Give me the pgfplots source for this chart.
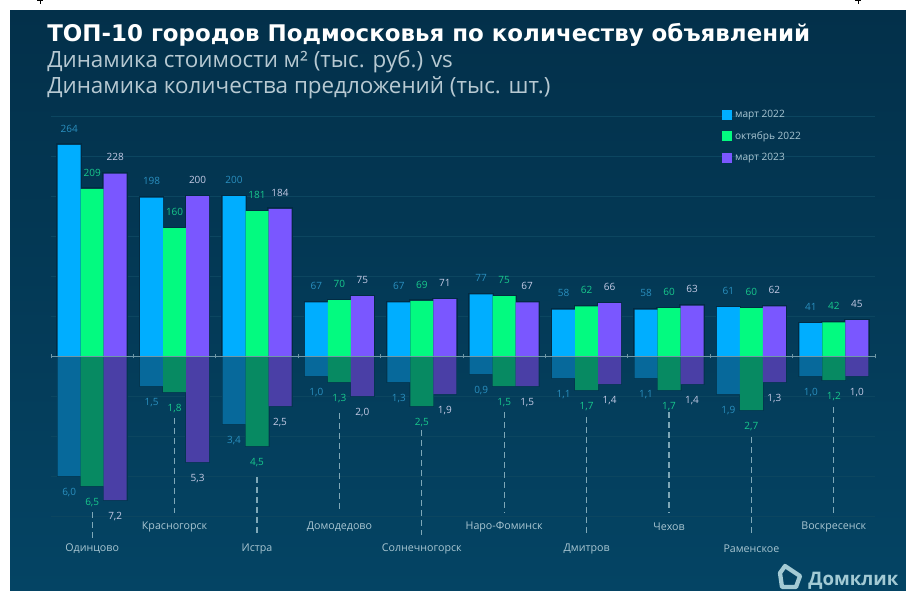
\documentclass[border=0pt]{standalone}
\usepackage{pgfplots}
\usepackage{pgfplotstable}
\usepackage{fontspec}
\pgfplotsset{compat=1.18}
\setmainfont{Open Sans}
\newfontfamily\titlefont{DejaVu Sans}
\definecolor{bgtop}{HTML}{03304A}
\definecolor{bgbot}{HTML}{044464}
\definecolor{shadowc}{HTML}{022B43}
\definecolor{shadowd}{HTML}{033650}
\definecolor{gridc}{HTML}{0C4660}
\definecolor{cblue}{HTML}{00AEFF}
\definecolor{cgreen}{HTML}{03FA80}
\definecolor{cpurple}{HTML}{7A57FF}
\definecolor{dblue}{HTML}{07699B}
\definecolor{dgreen}{HTML}{078A62}
\definecolor{dpurple}{HTML}{4A3FA6}
\definecolor{lblue}{HTML}{2A8FBF}
\definecolor{lgreen}{HTML}{18C98C}
\definecolor{lpurple}{HTML}{C5CBE6}
\definecolor{citytxt}{HTML}{A9C6D2}
\definecolor{leaderc}{HTML}{7FA8B8}
\definecolor{basec}{HTML}{6F97A6}
\definecolor{subtxt}{HTML}{B7C9D2}
\definecolor{logoc}{HTML}{A3CAD4}
\pgfplotstableread{
i a b c
0 264 209 228
1 198 160 200
2 200 181 184
3 67 70 75
4 67 69 71
5 77 75 67
6 58 62 66
7 58 60 63
8 61 60 62
9 41 42 45
}\pricetab
\pgfplotstableread{
i a b c
0 6.0 6.5 7.2
1 1.5 1.8 5.3
2 3.4 4.5 2.5
3 1.0 1.3 2.0
4 1.3 2.5 1.9
5 0.9 1.5 1.5
6 1.1 1.7 1.4
7 1.1 1.7 1.4
8 1.9 2.7 1.3
9 1.0 1.2 1.0
}\offertab
\pgfplotsset{
  base/.style={
    scale only axis, width=618pt, height=300pt,
    at={(38.25pt,-387pt)}, anchor=south west,
    xmin=-0.5, xmax=9.5, xtick=\empty, yticklabels={},
    axis line style={draw=none}, clip=false,
    major tick length=0pt, ymajorgrids,
    grid style={gridc, line width=0.4pt},
    bar width=17.25pt, ybar,
  },
  lab/.style={nodes near coords, every node near coord/.append style={text=#1, font=\fontsize{7.5}{8}\selectfont}},
  shadow/.style={fill=shadowc, draw=shadowc, line width=2pt, forget plot},
  shadowlow/.style={fill=shadowd, draw=shadowd, line width=1.5pt, forget plot},
}
\begin{document}
\begin{tikzpicture}[x=0.75pt,y=-0.75pt]
\useasboundingbox (0,0) rectangle (906,590);
\fill[white] (0,0) rectangle (906,590);
\fill[black] (37,0) rectangle (43,1);
\fill[black] (39.5,0) rectangle (41,4);
\fill[black] (855,0) rectangle (861,1);
\fill[black] (857.5,0) rectangle (859,4);
\shade[top color=bgtop, bottom color=bgbot] (10,10) rectangle (906,590);

% lower part: number of offers
\begin{axis}[base, y dir=reverse, ymin=-12, ymax=8, ytick={2,4,6,8},
  /pgf/number format/.cd, fixed, fixed zerofill, precision=1, use comma, assume math mode=true,
  /pgfplots/.cd,
  every node near coord/.append style={anchor=north, yshift=-6pt}]
\addplot[shadowlow, bar shift=-17.25pt] table[x=i,y=a]{\offertab};
\addplot[shadowlow, bar shift=0pt] table[x=i,y=b]{\offertab};
\addplot[shadowlow, bar shift=17.25pt] table[x=i,y=c]{\offertab};
\addplot[fill=dblue, draw=none, bar shift=-17.25pt, forget plot, lab=lblue] table[x=i,y=a]{\offertab};
\addplot[fill=dgreen, draw=none, bar shift=0pt, forget plot, lab=lgreen] table[x=i,y=b]{\offertab};
\addplot[fill=dpurple, draw=none, bar shift=17.25pt, forget plot, lab=lpurple] table[x=i,y=c]{\offertab};
\end{axis}

% dashed leaders and city names
\begin{axis}[scale only axis, width=618pt, height=300pt,
  at={(38.25pt,-387pt)}, anchor=south west,
  xmin=-0.5, xmax=9.5, y dir=reverse, ymin=-12, ymax=8, clip=false,
  xtick=\empty, ytick=\empty, axis line style={draw=none},
  leader/.style={draw=leaderc, line width=0.9pt, dash pattern=on 4.5pt off 3pt, no marks, forget plot}]
\addplot[leader] coordinates {(0,7.8) (0,9.2)};
\addplot[leader] coordinates {(1,3.1) (1,7.85)};
\addplot[leader] coordinates {(2,6.05) (2,8.95)};
\addplot[leader] coordinates {(3,2.85) (3,7.85)};
\addplot[leader] coordinates {(4,3.7) (4,8.95)};
\addplot[leader] coordinates {(5,2.8) (5,7.85)};
\addplot[leader] coordinates {(6,3.05) (6,9.05)};
\addplot[leader] coordinates {(7,2.8) (7,7.85)};
\addplot[leader] coordinates {(8,4.05) (8,9.05)};
\addplot[leader] coordinates {(9,2.55) (9,7.85)};
\tikzset{city/.style={text=citytxt, font=\fontsize{8}{9}\selectfont, inner sep=0pt}}
\node[city] at (axis cs:0,9.65) {Одинцово};
\node[city] at (axis cs:1,8.55) {Красногорск};
\node[city] at (axis cs:2,9.65) {Истра};
\node[city] at (axis cs:3,8.55) {Домодедово};
\node[city] at (axis cs:4,9.65) {Солнечногорск};
\node[city] at (axis cs:5,8.55) {Наро-Фоминск};
\node[city] at (axis cs:6,9.65) {Дмитров};
\node[city] at (axis cs:7,8.55) {Чехов};
\node[city] at (axis cs:8,9.65) {Раменское};
\node[city] at (axis cs:9,8.55) {Воскресенск};
\end{axis}

% upper part: price per square metre
\begin{axis}[base, ymin=-200, ymax=300, ytick={50,100,...,300},
  /pgf/number format/.cd, fixed, precision=0, assume math mode=true,
  /pgfplots/.cd,
  every node near coord/.append style={anchor=south, yshift=6pt},
  legend style={draw=none, fill=none, at={(0.8145,1.022)}, anchor=north west,
    font=\fontsize{7.6}{8}\selectfont, text=citytxt, row sep=5pt, inner sep=0pt,
    /tikz/every even column/.append style={column sep=5pt}},
  legend cell align=left,
  legend image code/.code={\path[#1,draw=none] (0pt,-3.75pt) rectangle (7.5pt,3.75pt);}]
\addplot[shadow, bar shift=-17.25pt] table[x=i,y=a]{\pricetab};
\addplot[shadow, bar shift=0pt] table[x=i,y=b]{\pricetab};
\addplot[shadow, bar shift=17.25pt] table[x=i,y=c]{\pricetab};
\addplot[fill=cblue, draw=none, bar shift=-17.25pt, lab=lblue] table[x=i,y=a]{\pricetab};
\addplot[fill=cgreen, draw=none, bar shift=0pt, lab=lgreen] table[x=i,y=b]{\pricetab};
\addplot[fill=cpurple, draw=none, bar shift=17.25pt, lab=lpurple] table[x=i,y=c]{\pricetab};
\legend{март 2022, октябрь 2022, март 2023}
\draw[basec, line width=0.5pt] (axis cs:-0.5,0) -- (axis cs:9.5,0);
\pgfplotsinvokeforeach{-0.5,0.5,1.5,2.5,3.5,4.5,5.5,6.5,7.5,8.5,9.5}{
  \draw[basec, line width=0.5pt] (axis cs:#1,-3) -- (axis cs:#1,3);
}
\end{axis}

% titles
\node[anchor=base west, inner sep=0pt, text=white, font=\titlefont\bfseries\fontsize{17.2}{20}\selectfont] at (47,41) {ТОП-10 городов Подмосковья по количеству объявлений};
\node[anchor=base west, inner sep=0pt, text=subtxt, font=\fontsize{16.8}{20}\selectfont] at (47,67) {Динамика стоимости м² (тыс. руб.) vs};
\node[anchor=base west, inner sep=0pt, text=subtxt, font=\fontsize{16.8}{20}\selectfont] at (47,93) {Динамика количества предложений (тыс. шт.)};

% logo
\draw[logoc, line width=3.2pt, line join=round] (785,566) -- (800,576) -- (796,587) -- (782,587) -- (780,573) -- cycle;
\node[anchor=base west, inner sep=0pt, text=logoc, font=\bfseries\fontsize{14}{16}\selectfont] at (808,585) {Домклик};
\end{tikzpicture}
\end{document}
